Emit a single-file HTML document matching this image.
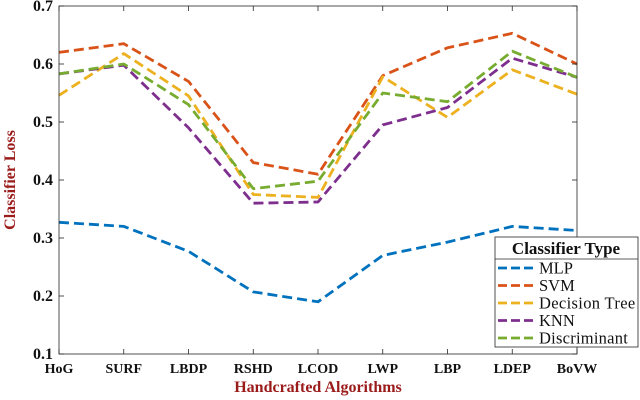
<!DOCTYPE html>
<html><head><meta charset="utf-8"><style>
html,body{margin:0;padding:0;background:#fff;}
svg{display:block;font-family:"Liberation Serif",serif;}
</style></head><body>
<svg id="chart" width="640" height="400" viewBox="0 0 640 400">
<g id="grid"></g>
<g id="series"></g>
<g id="axes"></g>
<g id="legend"></g>
</svg>
<script>
const categories = ["HoG","SURF","LBDP","RSHD","LCOD","LWP","LBP","LDEP","BoVW"];
const seriesNames = ["MLP","SVM","Decision Tree","KNN","Discriminant"];
const mlp = [0.327,0.320,0.277,0.207,0.190,0.270,0.293,0.320,0.313];
const svm = [0.620,0.635,0.570,0.430,0.410,0.580,0.628,0.653,0.600];
const dtree = [0.546,0.618,0.545,0.375,0.370,0.578,0.508,0.590,0.548];
const knn = [0.583,0.598,0.490,0.360,0.362,0.495,0.525,0.610,0.577];
const disc = [0.583,0.600,0.530,0.385,0.398,0.550,0.535,0.622,0.577];
const yTicks = [0.1,0.2,0.3,0.4,0.5,0.6,0.7];
const yTickLabels = ["0.1","0.2","0.3","0.4","0.5","0.6","0.7"];

const NS="http://www.w3.org/2000/svg";
const L=59,R=577,T=6,B=354,yMin=0.1,yMax=0.7;
const xS=i=>L+i*(R-L)/(categories.length-1);
const yS=v=>B-(v-yMin)/(yMax-yMin)*(B-T);
function mk(tag,attrs,parent){const e=document.createElementNS(NS,tag);for(const k in attrs)e.setAttribute(k,attrs[k]);parent.appendChild(e);return e;}
const svg=document.getElementById('chart');
const axes=document.getElementById('axes');
const ser=document.getElementById('series');
const leg=document.getElementById('legend');

const frame=mk('rect',{x:L,y:T,width:R-L,height:B-T,fill:'none',stroke:'#262626','stroke-width':0.8},axes);



yTicks.forEach((v,i)=>{
  const y=yS(v);
  const t=mk('line',{x1:L,x2:L+5,y1:y,y2:y,stroke:'#262626','stroke-width':0.8},axes);
  
  
  const t2=mk('line',{x1:R,x2:R-5,y1:y,y2:y,stroke:'#262626','stroke-width':0.8},axes);
  
  
  const tx=mk('text',{x:L-6,y:y+5,'text-anchor':'end','font-size':16,'font-weight':'bold',fill:'#111'},axes);
  tx.textContent=yTickLabels[i];
  
  
});
categories.forEach((c,i)=>{
  const x=xS(i);
  const t=mk('line',{x1:x,x2:x,y1:B,y2:B-5,stroke:'#262626','stroke-width':0.8},axes);
  
  
  const t2=mk('line',{x1:x,x2:x,y1:T,y2:T+5,stroke:'#262626','stroke-width':0.8},axes);
  
  
  const tx=mk('text',{x:x,y:373,'text-anchor':'middle','font-size':14,'font-weight':'bold',fill:'#111'},axes);
  tx.textContent=c;
  
  
});
const xt=mk('text',{x:318,y:392,'text-anchor':'middle','font-size':16,'font-weight':'bold',fill:'#9b1b1b'},axes);
xt.textContent='Handcrafted Algorithms';


const yt=mk('text',{x:0,y:0,'text-anchor':'middle','font-size':16,'font-weight':'bold',fill:'#9b1b1b',transform:'translate(15,180) rotate(-90)'},axes);
yt.textContent='Classifier Loss';



const allSeries=[mlp,svm,dtree,knn,disc];
const colors=['#0072bd','#d95319','#edb120','#7e2f8e','#77ac30'];
allSeries.forEach((vals,s)=>{
  const d=vals.map((v,i)=>(i?'L':'M')+xS(i).toFixed(1)+','+yS(v).toFixed(1)).join(' ');
  const p=mk('path',{d:d,fill:'none',stroke:colors[s],'stroke-width':2.8,'stroke-dasharray':'10,5','stroke-linejoin':'round'},ser);
  
  
});

const lb=mk('rect',{x:495,y:237,width:143,height:110,fill:'#fff',stroke:'#262626','stroke-width':0.8},leg);


const lt=mk('text',{x:566,y:254,'text-anchor':'middle','font-size':17,'font-weight':'bold',fill:'#111'},leg);
lt.textContent='Classifier Type';


const ls=mk('line',{x1:495,x2:638,y1:259,y2:259,stroke:'#262626','stroke-width':0.8},leg);


seriesNames.forEach((n,s)=>{
  const y=268+s*17.5;
  const g=mk('g',{},leg);
  
  
  mk('line',{x1:498,x2:537,y1:y,y2:y,stroke:colors[s],'stroke-width':2.8,'stroke-dasharray':'9,4'},g);
  const t=mk('text',{x:539,y:y+5.5,'font-size':16.5,fill:'#111',textLength:n.length>5?(n.length*7.4):null},g);
  if(!(n.length>5)) t.removeAttribute('textLength');
  t.textContent=n;
});
</script>
</body></html>
